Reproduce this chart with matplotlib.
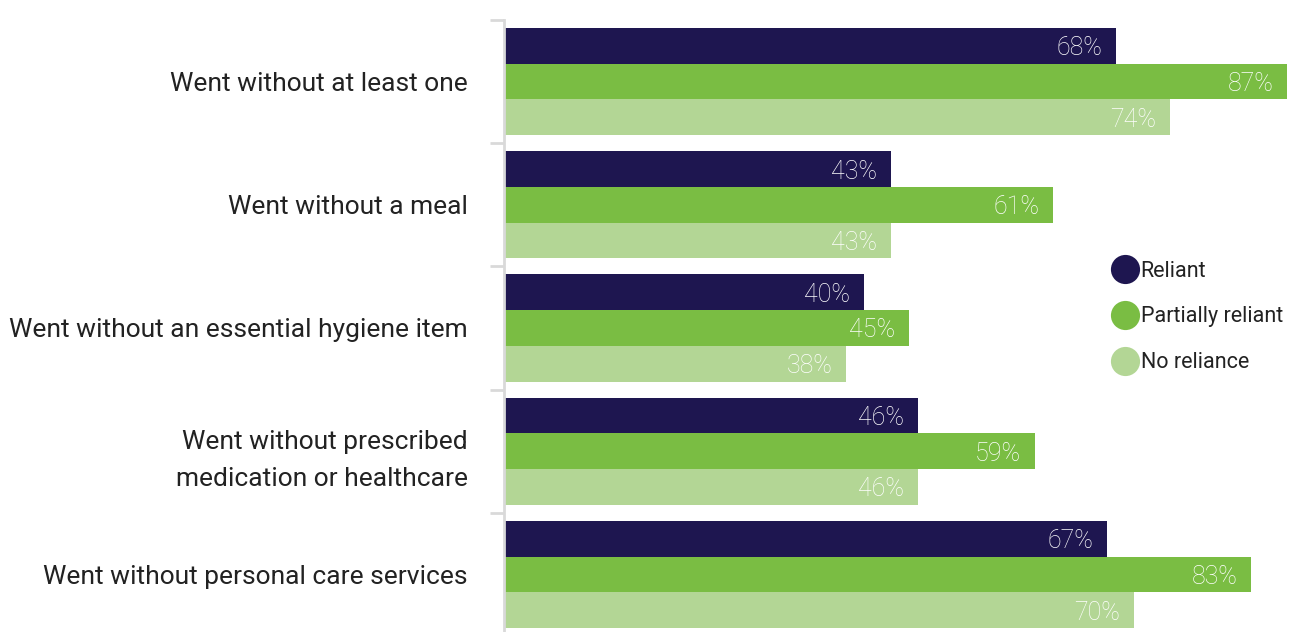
import numpy as np
import matplotlib.pyplot as plt
from matplotlib.lines import Line2D

categories = ["Went without at least one",
              "Went without a meal",
              "Went without an essential hygiene item",
              "Went without prescribed\nmedication or healthcare",
              "Went without personal care services"]
series = ["Reliant", "Partially reliant", "No reliance"]
reliant = [68, 43, 40, 46, 67]
partially = [87, 61, 45, 59, 83]
no_reliance = [74, 43, 38, 46, 70]

colors = ["#1E1650", "#7ABD43", "#B3D695"]
font = ["Roboto", "DejaVu Sans"]

fig = plt.figure(figsize=(12.9, 6.32), dpi=100)
ax = fig.add_axes([504 / 1290, -4 / 632, 1 - 504 / 1290, 616 / 632])

bar_h = 0.29
y = np.arange(len(categories))
for k, (vals, col) in enumerate(zip([reliant, partially, no_reliance], colors)):
    pos = y + (k - 1) * bar_h
    ax.barh(pos, vals, height=bar_h, color=col, edgecolor="none")
    for p, v in zip(pos, vals):
        ax.text(v - 1.55, p + 0.02, f"{v}%", ha="right", va="center", color="white",
                fontsize=18, family=font, fontweight="light")

ax.set_ylim(len(categories) - 0.5, -0.5)
ax.set_xlim(0, 87.3)
ax.set_yticks(y)
ax.set_yticklabels(categories, fontsize=19, family=font,
                   color="#222222", linespacing=1.7)
ax.set_yticks(np.arange(len(categories) + 1) - 0.5, minor=True)
ax.tick_params(axis="y", which="major", length=0, pad=26)
ax.tick_params(axis="y", which="minor", length=10, width=2, color="#D9D9D9")
ax.set_xticks([])
for s in ["top", "right", "bottom"]:
    ax.spines[s].set_visible(False)
ax.spines["left"].set_color("#D9D9D9")
ax.spines["left"].set_linewidth(2)

handles = [Line2D([], [], marker="o", linestyle="none", markersize=21,
                  markerfacecolor=c, markeredgecolor="none") for c in colors]
leg = ax.legend(handles, series, loc="center left", bbox_to_anchor=(0.747, 0.518),
                frameon=False, handletextpad=0.05, labelspacing=1.15,
                prop={"family": font, "size": 15.5}, handlelength=1.35)
for t in leg.get_texts():
    t.set_color("#222222")

fig.savefig("out.png", dpi=100)
